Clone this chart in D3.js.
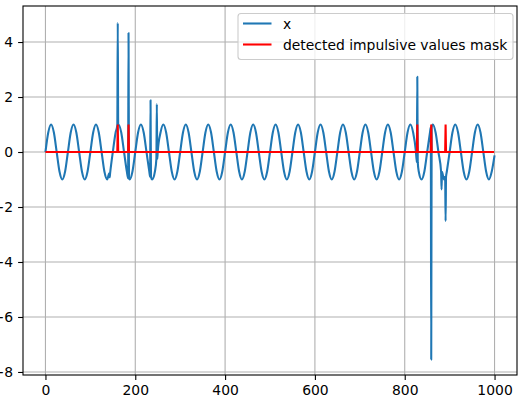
<!DOCTYPE html>
<html>
<head>
<meta charset="utf-8">
<script src="https://cdn.jsdelivr.net/npm/d3@7"></script>
<style>
  body { margin: 0; background: #fff; }
  text { font-family: "DejaVu Sans", sans-serif; fill: #000; }
</style>
</head>
<body>
<div id="chart"></div>
<script>
const waveStep = 6.25;
const waveValues = [
  0, 0.71, 1, 0.71, 0, -0.71, -1, -0.71,
  0, 0.71, 1, 0.71, 0, -0.71, -1, -0.71,
  0, 0.71, 1, 0.71, 0, -0.71, -1, -0.71,
  0, 0.71, 1, 0.71, 0, -0.71, -1, -0.71,
  0, 0.71, 1, 0.71, 0, -0.71, -1, -0.71,
  0, 0.71, 1, 0.71, 0, -0.71, -1, -0.71,
  0, 0.71, 1, 0.71, 0, -0.71, -1, -0.71,
  0, 0.71, 1, 0.71, 0, -0.71, -1, -0.71,
  0, 0.71, 1, 0.71, 0, -0.71, -1, -0.71,
  0, 0.71, 1, 0.71, 0, -0.71, -1, -0.71,
  0, 0.71, 1, 0.71, 0, -0.71, -1, -0.71,
  0, 0.71, 1, 0.71, 0, -0.71, -1, -0.71,
  0, 0.71, 1, 0.71, 0, -0.71, -1, -0.71,
  0, 0.71, 1, 0.71, 0, -0.71, -1, -0.71,
  0, 0.71, 1, 0.71, 0, -0.71, -1, -0.71,
  0, 0.71, 1, 0.71, 0, -0.71, -1, -0.71,
  0, 0.71, 1, 0.71, 0, -0.71, -1, -0.71,
  0, 0.71, 1, 0.71, 0, -0.71, -1, -0.71,
  0, 0.71, 1, 0.71, 0, -0.71, -1, -0.71,
  0, 0.71, 1, 0.71, 0, -0.71, -1, -0.71,
  -0.12
];

// impulses added to x: sample index, peak value, level they start from
const impulseT    = [143,   161,  185,   234,  248,   828,  859,   882,   891];
const impulseV    = [-0.92, 4.7,  4.33,  1.88, 1.74,  2.74, -7.55, -1.36, -2.51];
const impulseBase = [-0.77, 0.98, -0.95, -0.9, -0.25, -0.37, 0.9,  -0.72, -0.9];

// detected impulsive values mask (1 at these samples, 0 elsewhere)
const maskT = [161, 185, 828, 859, 891];
const nSamples = 1000;

const xTicks = [0, 200, 400, 600, 800, 1000];
const yTicks = [-8, -6, -4, -2, 0, 2, 4];
const legendLabels = ["x", "detected impulsive values mask"];
const colors = ["#1f77b4", "#ff0000"];

const width = 525, height = 406;
const plotLeft = 23, plotRight = 517, plotTop = 6, plotBottom = 375;

const x = d3.scaleLinear().domain([-50, 1050]).range([plotLeft, plotRight]);
const y = d3.scaleLinear().domain([-8.11, 5.31]).range([plotBottom, plotTop]);

const svg = d3.select("#chart").append("svg")
    .attr("width", width)
    .attr("height", height);

// build the x series: wave samples + impulses
let xPts = waveValues.map((v, i) => [i * waveStep, v])
  .filter(p => !impulseT.some(t => Math.abs(p[0] - t) < 1));
impulseT.forEach((t, i) => {
  xPts.push([t - 1, impulseBase[i]], [t, impulseV[i]], [t + 1, impulseBase[i]]);
});
xPts.sort((a, b) => a[0] - b[0]);

let maskPts = [[0, 0]];
maskT.forEach(t => maskPts.push([t - 1, 0], [t, 1], [t + 1, 0]));
maskPts.push([nSamples - 1, 0]);

// grid
const grid = svg.append("g");
grid.selectAll("line.gx").data(xTicks).enter().append("line")
    .attr("x1", d => x(d)).attr("x2", d => x(d))
    .attr("y1", plotTop).attr("y2", plotBottom)
    .attr("stroke", "#b0b0b0").attr("stroke-width", 1.1);
grid.selectAll("line.gy").data(yTicks).enter().append("line")
    .attr("y1", d => y(d)).attr("y2", d => y(d))
    .attr("x1", plotLeft).attr("x2", plotRight)
    .attr("stroke", "#b0b0b0").attr("stroke-width", 1.1);

const plot = svg.append("g");
plot.append("path")
    .datum(xPts)
    .attr("fill", "none")
    .attr("stroke", colors[0])
    .attr("stroke-width", 2.08)
    .attr("stroke-linejoin", "round")
    .attr("d", d3.line().x(d => x(d[0])).y(d => y(d[1])).curve(d3.curveMonotoneX));

plot.append("path")
    .datum(maskPts)
    .attr("fill", "none")
    .attr("stroke", colors[1])
    .attr("stroke-width", 2.08)
    .attr("d", d3.line().x(d => x(d[0])).y(d => y(d[1])));

// axes
const fmt = d => d < 0 ? "\u2212" + Math.abs(d) : String(d);
svg.append("g")
    .attr("transform", `translate(0,${plotBottom})`)
    .call(d3.axisBottom(x).tickValues(xTicks).tickFormat(fmt).tickSize(4.9).tickPadding(4.9))
    .call(g => g.select(".domain").remove());
svg.append("g")
    .attr("transform", `translate(${plotLeft},0)`)
    .call(d3.axisLeft(y).tickValues(yTicks).tickFormat(fmt).tickSize(4.9).tickPadding(4.9))
    .call(g => g.select(".domain").remove());
svg.selectAll(".tick text").style("font-size", "13.9px").style("font-family", "DejaVu Sans").attr("fill", "#000");
svg.selectAll(".tick line").attr("stroke", "#000").attr("stroke-width", 1.1);

svg.append("rect")
    .attr("x", plotLeft).attr("y", plotTop)
    .attr("width", plotRight - plotLeft).attr("height", plotBottom - plotTop)
    .attr("fill", "none").attr("stroke", "#000").attr("stroke-width", 1.1);

// legend
const lg = svg.append("g");
lg.append("rect")
    .attr("x", 238).attr("y", 13.5)
    .attr("width", 275).attr("height", 46)
    .attr("rx", 3)
    .attr("fill", "#fff").attr("fill-opacity", 0.8)
    .attr("stroke", "#cccccc").attr("stroke-width", 1.1);
legendLabels.forEach((lab, i) => {
  const cy = 23.5 + i * 21;
  lg.append("line")
      .attr("x1", 243).attr("x2", 271.5)
      .attr("y1", cy).attr("y2", cy)
      .attr("stroke", colors[i]).attr("stroke-width", 2.08);
  lg.append("text")
      .attr("x", 283).attr("y", cy + 5)
      .style("font-size", "13.9px")
      .text(lab);
});
</script>
</body>
</html>
